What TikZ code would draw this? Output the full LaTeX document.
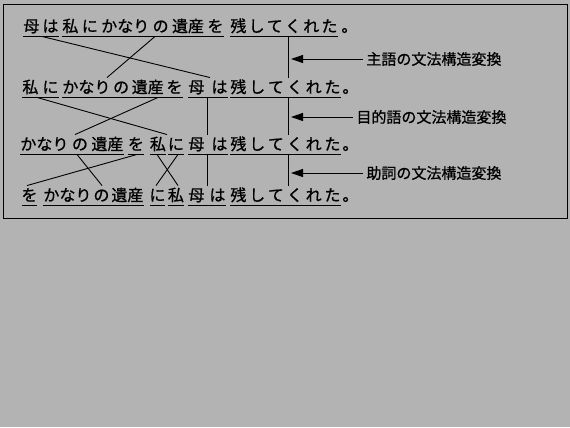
\documentclass[tikz,border=0pt]{standalone}
\usepackage{fontspec}
\setmainfont{Noto Sans CJK JP}
\newfontfamily\jp{Noto Sans CJK JP}[FakeBold=0.8]
\usetikzlibrary{arrows.meta}
\definecolor{bg}{RGB}{179,179,179}
\newcommand\wbox[2]{\makebox[#1bp][c]{#2}}
\begin{document}
\begin{tikzpicture}[x=1bp,y=-1bp,
  every path/.style={line width=0.9bp},
  wd/.style={inner sep=0pt, text height=15bp, text depth=4bp, anchor=base west, font=\jp\fontsize{16bp}{16bp}\selectfont},
  lab/.style={inner xsep=3bp, inner ysep=0pt, anchor=west, font=\jp\fontsize{15bp}{15bp}\selectfont},
  arr/.style={-{Triangle[length=12bp,width=8bp]}}]
\fill[bg] (0,0) rectangle (570,427);
\useasboundingbox (0,0) rectangle (570,427);
\draw (3.5,4.5) rectangle (567.5,218);
% line 1
\node[wd] (a1) at (23,32) {\wbox{35}{母\hfill は}};
\node[wd] (a2) at (62,32) {\wbox{161}{私\hfill に\hfill かなり\hfill の\hfill 遺産\hfill を}};
\node[wd] (a3) at (230,32) {\wbox{107}{残\hfill し\hfill て\hfill く\hfill れ\hfill た}};
\node[wd] (a4) at (341,32) {。};
% line 2
\node[wd] (b1) at (22,93) {\wbox{36}{私\hfill に}};
\node[wd] (b2) at (62,93) {\wbox{120}{かなり\hfill の\hfill 遺産\hfill を}};
\node[wd] (b3) at (188,93) {\wbox{39}{母\hfill は}};
\node[wd] (b4) at (230,93) {\wbox{110}{残\hfill し\hfill て\hfill く\hfill れ\hfill た}};
\node[wd] (b5) at (342,93) {。};
% line 3
\node[wd] (c1) at (20,150) {\wbox{103}{かなり\hfill の\hfill 遺産}};
\node[wd] (c2) at (128,150) {\wbox{15}{を}};
\node[wd] (c3) at (150,150) {\wbox{15}{私}};
\node[wd] (c4) at (168,150) {\wbox{15}{に}};
\node[wd] (c5) at (188,150) {\wbox{39}{母\hfill は}};
\node[wd] (c6) at (230,150) {\wbox{110}{残\hfill し\hfill て\hfill く\hfill れ\hfill た}};
\node[wd] (c7) at (342,150) {。};
% line 4
\node[wd] (d1) at (22,201) {\wbox{14}{を}};
\node[wd] (d2) at (43,201) {\wbox{100}{かなり\hfill の\hfill 遺産}};
\node[wd] (d3) at (150,201) {\wbox{14}{に}};
\node[wd] (d4) at (168,201) {\wbox{15}{私}};
\node[wd] (d5) at (188,201) {\wbox{37}{母\hfill は}};
\node[wd] (d6) at (230,201) {\wbox{110}{残\hfill し\hfill て\hfill く\hfill れ\hfill た}};
\node[wd] (d7) at (342,201) {。};
% underlines
\foreach \n in {a1,a2,a3,b1,b2,b3,b4,c1,c2,c3,c4,c5,c6,d1,d2,d3,d4,d5,d6}
  \draw (\n.south west) -- (\n.south east);
% connectors
\draw ([xshift=19bp]a1.south west) -- ([xshift=22bp]b3.north west);
\draw ([xshift=93bp]a2.south west) -- ([xshift=45bp]b2.north west);
\draw ([xshift=15bp]b1.south west) -- ([xshift=17bp]c3.north west);
\draw ([xshift=96bp]b2.south west) -- ([xshift=55bp]c1.north west);
\draw ([xshift=57bp]c1.south west) -- ([xshift=59bp]d2.north west);
\draw ([xshift=9bp]c2.south west) -- ([xshift=5bp]d1.north west);
\draw ([xshift=7bp]c3.south west) -- ([xshift=10bp]d4.north west);
\draw ([xshift=10bp]c4.south west) -- ([xshift=6bp]d3.north west);
\draw ([xshift=58bp]a3.south west) -- ([xshift=58bp]b4.north west);
\draw ([xshift=58bp]b4.south west) -- ([xshift=58bp]c6.north west);
\draw ([xshift=58bp]c6.south west) -- ([xshift=58bp]d6.north west);
\draw ([xshift=19bp]b3.south west) -- ([xshift=19bp]c5.north west);
\draw ([xshift=19bp]c5.south west) -- ([xshift=19bp]d5.north west);
% labels and arrows
\node[lab] (L1) at (363,59) {主語の文法構造変換};
\node[lab] (L2) at (353,117) {目的語の文法構造変換};
\node[lab] (L3) at (363,173) {助詞の文法構造変換};
\coordinate (t1) at (291,59);
\coordinate (t2) at (291,117);
\coordinate (t3) at (291,173);
\draw[arr] (L1.west) -- (t1);
\draw[arr] (L2.west) -- (t2);
\draw[arr] (L3.west) -- (t3);
\end{tikzpicture}
\end{document}
